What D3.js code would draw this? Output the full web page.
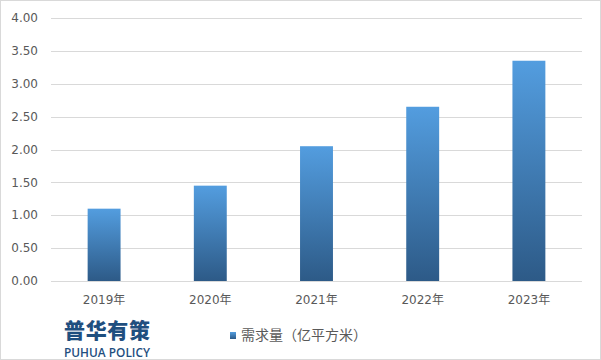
<!DOCTYPE html>
<html><head><meta charset="utf-8">
<script src="https://cdn.jsdelivr.net/npm/d3@7"></script>
<style>body{margin:0;background:#fff}svg{display:block}</style>
</head><body>
<svg id="c" width="601" height="360"></svg>
<script>
const categories = ["2019年","2020年","2021年","2022年","2023年"];
const values = [1.10, 1.45, 2.05, 2.65, 3.35];
const yTicks = [0,0.5,1,1.5,2,2.5,3,3.5,4];
const seriesName = "需求量（亿平方米）";

const svg = d3.select("#c");
const W=601,H=360;
svg.append("rect").attr("x",0.5).attr("y",0.5).attr("width",W-1).attr("height",H-1).attr("fill","#fff").attr("stroke","#d9d9d9");

const x = d3.scaleBand().domain(categories).range([51,582]).paddingInner(0.69).paddingOuter(0.345);
const y = d3.scaleLinear().domain([0,4]).range([281,18]);

const defs = svg.append("defs");
const g = defs.append("linearGradient").attr("id","bg").attr("x1",0).attr("y1",0).attr("x2",0).attr("y2",1);
g.append("stop").attr("offset","0%").attr("stop-color","#539ddf");
g.append("stop").attr("offset","100%").attr("stop-color","#2d5a87");

svg.append("g").selectAll("line").data(yTicks).join("line")
  .attr("x1",51).attr("x2",582).attr("y1",d=>Math.round(y(d))+0.5).attr("y2",d=>Math.round(y(d))+0.5)
  .attr("stroke","#d9d9d9").attr("stroke-width",1);

svg.append("g").selectAll("text").data(yTicks).join("text")
  .attr("x",38).attr("y",d=>y(d)).attr("dy","0.35em").attr("text-anchor","end")
  .attr("font-family","'DejaVu Sans', Verdana, sans-serif").attr("font-size",12).attr("fill","#595959")
  .text(d=>d.toFixed(2));

svg.append("g").selectAll("rect").data(values).join("rect")
  .attr("x",(d,i)=>x(categories[i])).attr("width",x.bandwidth())
  .attr("y",d=>y(d)).attr("height",d=>y(0)-y(d)).attr("fill","url(#bg)");

svg.append("g").selectAll("text").data(categories).join("text")
  .attr("x",d=>x(d)+x.bandwidth()/2).attr("y",300).attr("dy","0.35em").attr("text-anchor","middle")
  .attr("font-family","'DejaVu Sans', 'Noto Sans CJK SC', sans-serif").attr("font-size",12).attr("fill","#595959")
  .text(d=>d);

// legend
svg.append("rect").attr("x",230).attr("y",332).attr("width",6).attr("height",7).attr("fill","url(#bg)");
svg.append("text").attr("x",241).attr("y",335).attr("dy","0.35em")
  .attr("font-family","'Noto Sans CJK SC', sans-serif").attr("font-size",14).attr("fill","#595959")
  .text(seriesName);

// logo
svg.append("text").attr("x",64).attr("y",338)
  .attr("font-family","'Noto Sans CJK SC', sans-serif").attr("font-weight","900").attr("font-size",21)
  .attr("fill","#1f4f7f").attr("textLength",86).text("普华有策");
svg.append("text").attr("x",64).attr("y",357)
  .attr("font-family","'Open Sans', 'Noto Sans', sans-serif").attr("font-weight","600").attr("font-size",12)
  .attr("fill","#1f4f7f").attr("textLength",86).attr("lengthAdjust","spacingAndGlyphs").text("PUHUA POLICY");
</script>
</body></html>
